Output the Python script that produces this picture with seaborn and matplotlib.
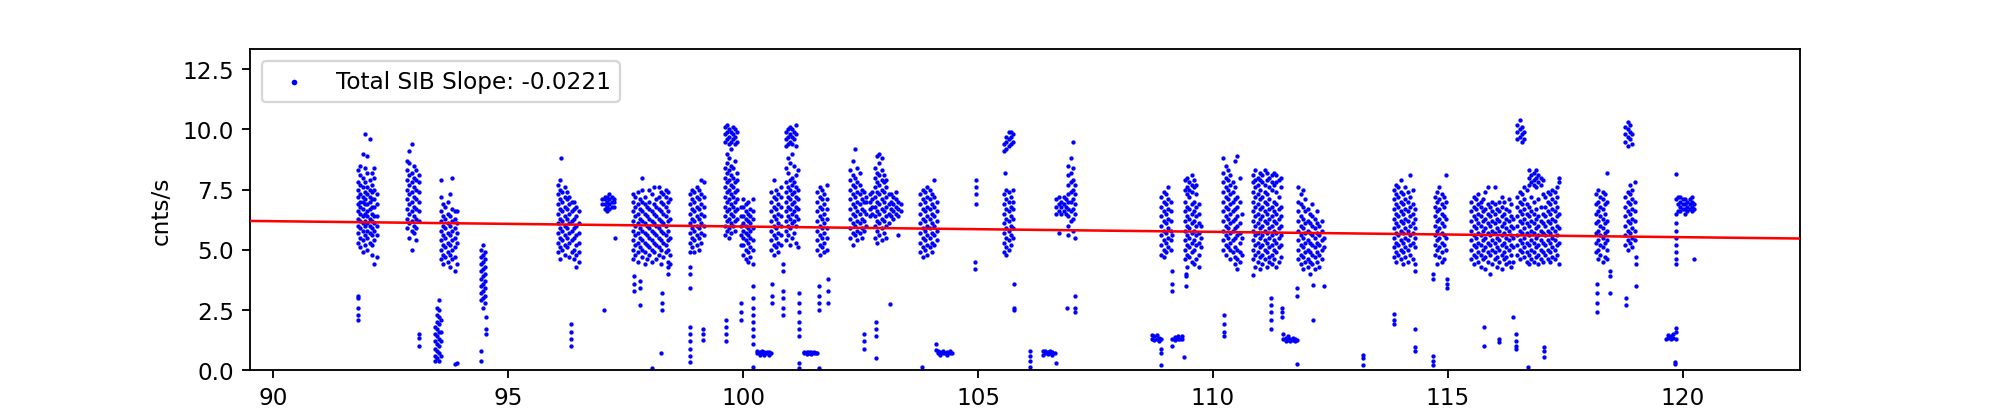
import pandas as pd
import seaborn as sns
import matplotlib.pyplot as plt

seg_92_97 = [
    (91.80, [5.3, 5.7, 6.0, 6.3, 6.6, 6.9, 7.2, 7.5, 7.8, 8.3, 2.1, 2.3, 2.6, 3.0, 3.1]),
    (91.85, [5.1, 5.5, 5.9, 6.2, 6.5, 6.8, 7.0, 7.3, 7.7, 8.1, 8.5]),
    (91.90, [4.9, 5.4, 5.8, 6.1, 6.4, 6.7, 7.0, 7.2, 7.6, 8.0, 9.0]),
    (91.95, [5.2, 5.6, 6.0, 6.2, 6.5, 6.9, 7.1, 7.4, 7.8, 8.4, 9.8]),
    (92.00, [5.0, 5.5, 5.8, 6.1, 6.4, 6.6, 6.9, 7.3, 7.6, 8.2, 8.9]),
    (92.05, [5.3, 5.7, 6.0, 6.3, 6.7, 7.0, 7.2, 7.5, 7.9, 9.6]),
    (92.10, [4.8, 5.2, 5.6, 5.9, 6.2, 6.5, 6.8, 7.1, 7.4, 7.7, 8.2]),
    (92.15, [4.4, 5.4, 5.8, 6.1, 6.4, 6.8, 7.1, 7.5, 8.0, 8.4]),
    (92.20, [4.7, 5.6, 6.0, 6.4, 6.9, 7.3]),
    (92.84, [5.9, 6.3, 6.7, 7.1, 7.5, 7.9, 8.3, 8.7]),
    (92.89, [5.5, 6.1, 6.5, 6.9, 7.3, 7.7, 8.1, 8.6, 9.1]),
    (92.94, [5.0, 5.8, 6.2, 6.6, 7.0, 7.4, 7.8, 8.2, 9.4]),
    (92.99, [5.7, 6.0, 6.4, 6.8, 7.2, 7.6, 8.0, 8.5]),
    (93.04, [5.4, 5.9, 6.3, 6.7, 7.1, 7.5, 7.9, 8.3]),
    (93.09, [6.2, 6.6, 7.0, 7.4, 7.8, 8.1, 1.0, 1.35, 1.5]),
    (93.44, [0.4, 0.6, 0.9, 1.2, 1.5, 1.8]),
    (93.48, [0.5, 0.8, 1.1, 1.4, 1.7, 2.0, 2.3, 2.6]),
    (93.52, [0.4, 0.7, 1.0, 1.3, 1.6, 1.9, 2.2, 2.5, 2.9]),
    (93.56, [4.6, 5.0, 5.4, 5.8, 6.2, 6.6, 7.2, 7.9, 0.6, 1.2, 1.6, 2.1]),
    (93.61, [4.4, 4.8, 5.2, 5.6, 6.0, 6.4, 6.9]),
    (93.66, [4.7, 5.1, 5.5, 5.9, 6.3, 6.8]),
    (93.71, [4.5, 4.9, 5.3, 5.7, 6.1, 6.5, 7.0]),
    (93.76, [4.3, 4.8, 5.2, 5.6, 6.0, 6.4, 7.3]),
    (93.81, [4.6, 5.0, 5.4, 5.8, 6.2, 6.7, 8.0]),
    (93.86, [4.1, 4.7, 5.1, 5.5, 5.9, 6.3, 6.6, 0.25]),
    (93.90, [4.4, 5.3, 5.7, 6.1, 6.6, 0.3]),
    (94.42, [2.9, 3.2, 3.5, 3.8, 4.1, 4.4, 4.7, 5.0, 0.4, 0.8]),
    (94.46, [2.6, 3.0, 3.3, 3.6, 3.9, 4.2, 4.5, 4.8, 5.2]),
    (94.50, [2.8, 3.1, 3.4, 3.7, 4.0, 4.3, 4.6, 4.9]),
    (94.53, [1.5, 1.7, 2.2]),
    (96.05, [4.9, 5.3, 5.7, 6.1, 6.5, 6.9, 7.3, 7.7]),
    (96.10, [4.6, 5.1, 5.5, 5.9, 6.3, 6.7, 7.1, 7.5, 7.9]),
    (96.13, [8.8]),
    (96.15, [5.0, 5.4, 5.8, 6.2, 6.6, 7.0, 7.4]),
    (96.20, [4.8, 5.2, 5.6, 6.0, 6.4, 6.8, 7.2, 7.6]),
    (96.25, [5.1, 5.5, 5.9, 6.3, 6.7, 7.1, 7.4]),
    (96.30, [4.7, 5.3, 5.7, 6.1, 6.5, 6.9, 7.2]),
    (96.33, [1.0, 1.3, 1.6, 1.9]),
    (96.35, [4.9, 5.4, 5.8, 6.2, 6.6, 7.0]),
    (96.40, [4.6, 5.0, 5.5, 5.9, 6.3, 6.7, 7.0]),
    (96.45, [4.3, 4.8, 5.2, 5.6, 6.0, 6.4, 6.8]),
    (96.50, [4.5, 4.9, 5.3, 5.7, 6.1, 6.6]),
    (97.00, [6.9, 7.1]),
    (97.03, [2.5]),
    (97.05, [6.7, 6.9, 7.1, 7.2]),
    (97.10, [6.6, 6.8, 7.0, 7.2]),
    (97.15, [6.7, 6.9, 7.1, 7.3]),
    (97.20, [6.8, 7.0, 7.2]),
    (97.25, [6.8, 7.0, 7.1]),
    (97.28, [5.5]),
]

seg_98_101 = [
    (97.65, [4.6, 5.0, 5.4, 5.8, 6.2, 6.6, 7.0, 7.3]),
    (97.67, [3.3, 3.6, 3.9]),
    (97.70, [4.8, 5.2, 5.6, 6.0, 6.4, 6.8, 7.2]),
    (97.75, [4.5, 4.9, 5.3, 5.7, 6.1, 6.5, 6.9, 7.4]),
    (97.80, [5.1, 5.5, 5.9, 6.3, 6.7, 7.1, 2.7, 3.4, 3.7]),
    (97.85, [4.7, 5.0, 5.4, 5.8, 6.2, 6.6, 7.0, 7.5, 8.0]),
    (97.90, [4.4, 4.9, 5.3, 5.7, 6.1, 6.5, 6.9, 7.2]),
    (97.95, [4.6, 5.2, 5.6, 6.0, 6.4, 6.8]),
    (98.00, [4.8, 5.1, 5.5, 5.9, 6.3, 6.7, 7.0, 7.5]),
    (98.05, [4.5, 5.0, 5.4, 5.8, 6.2, 6.6, 7.3, 0.1]),
    (98.10, [4.9, 5.3, 5.7, 6.1, 6.5, 6.9, 7.6]),
    (98.15, [4.6, 5.2, 5.6, 6.0, 6.4, 6.8, 7.1]),
    (98.20, [4.8, 5.1, 5.5, 5.9, 6.3, 6.7, 7.2, 7.6]),
    (98.25, [4.4, 5.0, 5.4, 5.8, 6.2, 6.6, 7.0, 7.4, 0.7]),
    (98.27, [2.5, 2.8, 3.2]),
    (98.30, [4.7, 5.3, 5.7, 6.1, 6.5, 6.9, 7.3]),
    (98.35, [4.9, 5.2, 5.6, 6.0, 6.4, 6.8, 7.2, 7.5]),
    (98.40, [5.0, 5.4, 5.8, 6.2, 6.6, 7.0, 7.4, 4.0, 4.3, 4.5]),
    (98.44, [4.4, 4.8, 5.5, 6.3, 7.1]),
    (98.86, [4.9, 5.3, 5.7, 6.1, 6.5, 6.9, 7.3, 0.35, 0.6, 0.9, 1.2, 1.5, 1.8, 3.4, 4.0, 4.3]),
    (98.91, [5.1, 5.5, 5.9, 6.3, 6.7, 7.1, 7.5]),
    (98.96, [4.9, 5.4, 5.8, 6.2, 6.6, 7.0, 7.4]),
    (99.01, [5.2, 5.6, 6.0, 6.4, 6.8, 7.2, 7.6]),
    (99.06, [5.0, 5.5, 5.9, 6.3, 6.7, 7.1, 7.5]),
    (99.11, [5.3, 5.7, 6.1, 6.5, 6.9, 7.3, 7.9]),
    (99.14, [1.25, 1.5, 1.7]),
    (99.16, [5.6, 6.0, 6.4, 6.8, 7.2, 7.8]),
    (99.62, [5.6, 6.0, 6.4, 6.8, 7.2, 7.6, 8.0, 8.4, 9.5, 9.8, 10.1]),
    (99.64, [1.2, 1.5, 1.8, 2.1]),
    (99.66, [5.8, 6.2, 6.6, 7.0, 7.4, 7.8, 8.2, 8.6, 9.0, 9.6, 9.9, 10.2]),
    (99.70, [5.5, 5.9, 6.3, 6.7, 7.1, 7.5, 7.9, 8.3, 8.8, 9.4, 9.7, 10.0]),
    (99.74, [5.7, 6.1, 6.5, 6.9, 7.3, 7.7, 8.1, 8.5, 9.2, 9.5, 9.9]),
    (99.78, [6.0, 6.4, 6.8, 7.2, 7.6, 8.0, 8.4, 9.6, 9.8, 10.1]),
    (99.82, [5.8, 6.2, 6.6, 7.0, 7.4, 7.8, 8.7, 9.4, 9.7, 10.0]),
    (99.86, [6.3, 6.7, 7.1, 7.5, 7.9, 8.2, 9.5, 9.9]),
    (99.95, [5.2, 5.6, 6.0, 6.4, 6.8, 2.1, 2.4, 2.8]),
    (100.00, [4.8, 5.2, 5.5, 5.8, 6.1, 6.4, 6.8, 7.1]),
    (100.05, [4.6, 5.0, 5.4, 5.7, 6.0, 6.3, 6.6, 6.9]),
    (100.10, [4.5, 4.9, 5.3, 5.6, 5.9, 6.2, 6.5, 7.0]),
    (100.15, [4.7, 5.1, 5.5, 5.8, 6.1, 6.4, 6.7]),
    (100.20, [4.4, 5.0, 5.4, 5.9, 6.3, 6.6, 7.1, 1.1, 1.4, 1.7, 2.0, 2.3, 2.6, 3.0, 3.5, 0.15]),
    (100.30, [0.7, 0.78]),
    (100.35, [0.65, 0.75]),
    (100.40, [0.7, 0.78]),
    (100.45, [0.65, 0.75]),
    (100.50, [0.7, 0.76]),
    (100.55, [0.65, 0.75]),
    (100.60, [5.0, 5.4, 5.8, 6.2, 6.6, 7.0, 7.4, 0.7]),
    (100.62, [2.8, 3.1, 3.6]),
    (100.65, [4.8, 5.2, 5.6, 6.0, 6.4, 6.8, 7.2, 7.9]),
    (100.70, [5.1, 5.5, 5.9, 6.3, 6.7, 7.1, 7.5]),
    (100.75, [4.9, 5.3, 5.7, 6.1, 6.5, 6.9, 7.3]),
    (100.80, [5.2, 5.6, 6.0, 6.4, 6.8, 7.2, 7.6]),
    (100.84, [4.1, 4.4, 3.3, 3.0, 2.6, 2.3]),
    (100.92, [5.4, 5.8, 6.2, 6.6, 7.0, 7.4, 7.8, 8.4, 9.3, 9.6, 9.9]),
    (100.96, [5.6, 6.0, 6.4, 6.8, 7.2, 7.6, 8.2, 8.8, 9.4, 9.7, 10.0]),
    (101.00, [5.2, 5.9, 6.3, 6.7, 7.1, 7.5, 7.9, 8.6, 9.5, 9.8, 10.1]),
    (101.04, [5.5, 6.1, 6.5, 6.9, 7.3, 7.7, 8.0, 9.0, 9.4, 9.7, 10.0]),
    (101.08, [5.7, 6.2, 6.6, 7.0, 7.4, 7.8, 8.5, 9.6, 9.9]),
    (101.12, [5.3, 6.0, 6.4, 6.8, 7.2, 7.6, 8.1, 9.3, 9.8, 10.2]),
    (101.16, [5.1, 6.3, 6.7, 7.1, 7.5, 8.3]),
    (101.19, [1.4, 1.7, 2.0, 2.4, 2.8, 3.2, 0.1, 0.3]),
    (101.30, [0.7, 0.76]),
    (101.35, [0.68, 0.74]),
    (101.40, [0.7, 0.76]),
    (101.45, [0.68, 0.74]),
    (101.50, [0.7, 0.76]),
    (101.55, [0.7]),
    (101.58, [5.0, 5.4, 5.8, 6.2, 6.6, 7.0, 7.4, 0.72]),
    (101.61, [2.5, 2.8, 3.1, 3.5, 0.1]),
    (101.63, [4.8, 5.2, 5.6, 6.0, 6.4, 6.8, 7.2, 7.6]),
    (101.68, [5.1, 5.5, 5.9, 6.3, 6.7, 7.1, 7.5]),
    (101.73, [4.9, 5.3, 5.7, 6.1, 6.5, 6.9, 7.3]),
    (101.78, [5.0, 5.5, 5.9, 6.3, 6.7, 7.1, 7.7]),
    (101.80, [2.8, 3.3, 3.8]),
]

seg_102_107 = [
    (102.28, [5.5, 5.9, 6.3, 6.7, 7.1, 7.5, 7.9, 8.3]),
    (102.33, [5.2, 5.7, 6.1, 6.5, 6.9, 7.3, 7.7, 8.1, 8.7]),
    (102.38, [5.6, 6.0, 6.4, 6.8, 7.2, 7.6, 8.0, 9.2]),
    (102.43, [5.4, 5.8, 6.2, 6.6, 7.0, 7.4, 7.8, 8.4]),
    (102.48, [5.7, 6.1, 6.5, 6.9, 7.3, 7.7, 8.2]),
    (102.53, [5.5, 5.9, 6.3, 6.7, 7.1, 7.5]),
    (102.58, [5.8, 6.2, 6.6, 7.0, 7.4, 0.9, 1.2, 1.5]),
    (102.62, [6.0, 6.5, 7.0, 7.2]),
    (102.70, [6.4, 6.7, 7.0, 7.3]),
    (102.75, [6.5, 6.8, 7.1, 7.4]),
    (102.80, [5.5, 6.0, 6.4, 6.8, 7.2, 7.6, 8.0, 8.4]),
    (102.83, [1.4, 1.7, 2.0, 0.5]),
    (102.85, [5.3, 5.8, 6.2, 6.6, 7.0, 7.4, 7.8, 8.2, 8.9]),
    (102.90, [5.6, 6.1, 6.5, 6.9, 7.3, 7.7, 8.1, 8.6, 9.0]),
    (102.95, [5.4, 5.9, 6.3, 6.7, 7.1, 7.5, 7.9, 8.3, 8.8]),
    (103.00, [5.7, 6.2, 6.6, 7.0, 7.4, 7.8, 8.1]),
    (103.05, [5.5, 6.0, 6.4, 6.8, 7.2, 7.6, 7.9]),
    (103.10, [6.1, 6.5, 6.9, 7.3]),
    (103.12, [2.75]),
    (103.15, [6.4, 6.7, 7.0, 7.3]),
    (103.20, [6.3, 6.6, 6.9, 7.2]),
    (103.25, [6.5, 6.8, 7.1, 7.4]),
    (103.30, [6.4, 6.7, 7.0, 5.6]),
    (103.35, [6.6, 6.9]),
    (103.77, [4.9, 5.3, 5.7, 6.1, 6.5, 6.9, 7.3]),
    (103.80, [0.15]),
    (103.82, [4.7, 5.1, 5.5, 5.9, 6.3, 6.7, 7.1, 7.5]),
    (103.87, [5.0, 5.4, 5.8, 6.2, 6.6, 7.0, 7.4]),
    (103.92, [4.8, 5.2, 5.6, 6.0, 6.4, 6.8, 7.2, 7.6]),
    (103.97, [5.1, 5.5, 5.9, 6.3, 6.7, 7.1, 7.5]),
    (104.02, [4.9, 5.3, 5.7, 6.1, 6.5, 6.9, 7.3]),
    (104.07, [5.2, 5.6, 6.0, 6.4, 6.8, 7.2, 7.9]),
    (104.10, [0.85, 1.1]),
    (104.12, [5.4, 5.8, 6.2, 6.6, 7.0]),
    (104.15, [0.7, 0.8]),
    (104.20, [0.65, 0.75]),
    (104.25, [0.7, 0.8]),
    (104.30, [0.7]),
    (104.35, [0.65, 0.75]),
    (104.40, [0.7, 0.8]),
    (104.45, [0.7]),
    (104.94, [4.2, 4.5]),
    (104.95, [6.9, 7.3, 7.6, 7.9]),
    (105.55, [4.9, 5.3, 5.7, 6.1, 6.5, 6.9, 7.3, 9.1, 9.4]),
    (105.58, [8.2]),
    (105.60, [4.8, 5.1, 5.5, 5.9, 6.3, 6.7, 7.1, 7.5, 9.2, 9.5, 9.7]),
    (105.65, [5.0, 5.4, 5.8, 6.2, 6.6, 7.0, 7.4, 9.3, 9.6, 9.9]),
    (105.70, [5.2, 5.6, 6.0, 6.4, 6.8, 7.2, 9.4, 9.7, 9.9]),
    (105.75, [5.5, 5.9, 6.3, 6.7, 7.0, 7.5, 9.5, 9.8]),
    (105.77, [2.5, 2.6, 3.6]),
    (106.10, [0.15, 0.4, 0.6, 0.8]),
    (106.38, [0.65, 0.8]),
    (106.43, [0.7, 0.78]),
    (106.48, [0.68, 0.75]),
    (106.53, [0.7, 0.8]),
    (106.58, [0.65, 0.75]),
    (106.63, [0.72]),
    (106.67, [6.5, 6.8, 7.1, 0.3]),
    (106.72, [6.6, 6.9, 7.2, 5.7]),
    (106.77, [6.5, 6.8, 7.0]),
    (106.82, [6.6, 6.9, 7.2]),
    (106.87, [6.5, 6.8, 7.1]),
    (106.90, [2.6]),
    (106.92, [5.6, 6.0, 6.4, 6.7, 7.0, 7.3, 7.7, 8.1, 8.5]),
    (106.97, [6.2, 6.6, 7.0, 7.4, 7.8, 8.2, 8.8]),
    (107.02, [5.8, 6.3, 6.7, 7.1, 7.5, 7.9, 8.4, 9.5]),
    (107.06, [5.5, 6.5, 6.9, 7.3, 7.7, 2.4, 2.6, 3.1]),
]

seg_109_113 = [
    (108.70, [1.3, 1.45]),
    (108.75, [1.25, 1.4]),
    (108.80, [1.3, 1.45]),
    (108.85, [1.2, 1.35]),
    (108.90, [4.8, 5.2, 5.6, 6.0, 6.4, 6.8, 7.2, 1.3, 0.2, 0.7, 0.9]),
    (108.95, [4.7, 5.0, 5.4, 5.8, 6.2, 6.6, 7.0, 7.4]),
    (109.00, [4.9, 5.3, 5.7, 6.1, 6.5, 6.9, 7.3]),
    (109.05, [5.1, 5.5, 5.9, 6.3, 6.7, 7.1, 7.6]),
    (109.10, [5.0, 5.4, 5.8, 6.2, 6.6, 7.0]),
    (109.14, [4.1, 3.6, 3.3, 5.6, 1.3, 1.0]),
    (109.20, [1.25, 1.38]),
    (109.25, [1.3, 1.42]),
    (109.30, [1.28]),
    (109.35, [1.3, 1.4]),
    (109.38, [0.55]),
    (109.40, [4.6, 5.0, 5.4, 5.8, 6.2, 6.6, 7.0, 7.5, 7.9]),
    (109.42, [3.5, 3.9, 4.0]),
    (109.45, [4.3, 4.8, 5.2, 5.6, 6.0, 6.4, 6.8, 7.3, 7.6, 8.0]),
    (109.50, [4.7, 5.1, 5.5, 5.9, 6.3, 6.7, 7.2, 7.5, 7.8]),
    (109.55, [4.5, 4.9, 5.3, 5.7, 6.1, 6.5, 6.9, 7.4, 7.7, 8.1]),
    (109.60, [4.4, 5.0, 5.4, 5.8, 6.2, 6.6, 7.0, 7.6, 7.9]),
    (109.65, [4.6, 5.2, 5.6, 6.0, 6.4, 6.8, 7.3, 7.7]),
    (109.70, [4.3, 4.8, 5.3, 5.7, 6.1, 6.5, 6.9]),
    (109.75, [5.1, 5.5, 6.0]),
    (110.22, [5.0, 5.4, 5.8, 6.2, 6.6, 7.0, 7.4, 7.8, 8.2, 8.8]),
    (110.23, [1.4, 1.6, 1.9, 2.3]),
    (110.27, [4.8, 5.2, 5.6, 6.0, 6.4, 6.8, 7.2, 7.6, 8.0, 8.5]),
    (110.32, [5.1, 5.5, 5.9, 6.3, 6.7, 7.1, 7.5, 7.9, 8.3]),
    (110.37, [4.6, 5.0, 5.3, 5.7, 6.1, 6.5, 6.9, 7.3, 7.7, 8.1]),
    (110.42, [4.9, 5.4, 5.8, 6.2, 6.6, 7.0, 7.4, 7.8]),
    (110.47, [4.4, 4.7, 5.1, 5.5, 5.9, 6.3, 6.7, 7.1, 7.6, 8.7]),
    (110.52, [4.2, 4.6, 5.0, 5.6, 6.0, 6.4, 6.8, 7.2, 8.9]),
    (110.57, [4.5, 4.9, 5.3, 5.7, 6.1, 7.0, 8.0]),
    (110.61, [4.8, 5.5, 6.5]),
    (110.85, [4.6, 5.0, 5.4, 5.8, 6.2, 6.6, 7.0, 7.4, 7.8, 8.1, 3.95]),
    (110.90, [4.3, 4.8, 5.2, 5.6, 6.0, 6.4, 6.8, 7.2, 7.6, 7.9, 8.3]),
    (110.95, [4.5, 4.9, 5.3, 5.7, 6.1, 6.5, 6.9, 7.3, 7.7, 8.0]),
    (111.00, [4.2, 4.7, 5.1, 5.5, 5.9, 6.3, 6.7, 7.1, 7.5, 7.9, 8.2]),
    (111.05, [4.4, 4.8, 5.2, 5.6, 6.0, 6.4, 6.8, 7.2, 7.8, 8.1]),
    (111.10, [4.6, 5.0, 5.4, 5.8, 6.2, 6.6, 7.0, 7.4, 7.7, 8.3]),
    (111.15, [4.3, 4.9, 5.3, 5.7, 6.1, 6.5, 6.9, 7.3, 7.9, 8.2]),
    (111.20, [4.5, 4.7, 5.1, 5.5, 5.9, 6.3, 6.7, 7.1, 7.6, 8.0]),
    (111.24, [1.7, 2.1, 2.4, 2.7, 3.0]),
    (111.25, [4.4, 4.8, 5.2, 5.6, 6.0, 6.4, 6.8, 7.5, 7.8, 8.1]),
    (111.30, [4.6, 5.0, 5.4, 5.8, 6.2, 6.6, 7.0, 7.7, 8.2]),
    (111.35, [4.3, 4.9, 5.3, 5.7, 6.1, 6.5, 6.9, 7.4, 7.8, 8.1]),
    (111.40, [4.5, 5.1, 5.5, 5.9, 6.3, 6.7, 7.2, 7.9]),
    (111.45, [4.7, 5.2, 5.6, 6.0, 6.4, 6.8, 7.6, 8.0]),
    (111.47, [2.2, 2.4, 2.6]),
    (111.50, [1.3, 1.5]),
    (111.55, [1.2, 1.35]),
    (111.60, [1.25, 1.4]),
    (111.65, [1.2, 1.3]),
    (111.70, [1.25, 1.35]),
    (111.75, [1.2, 1.3]),
    (111.80, [1.25, 3.1, 3.4, 0.25]),
    (111.82, [4.6, 5.0, 5.4, 5.8, 6.2, 6.6, 7.0, 7.6]),
    (111.87, [4.4, 4.8, 5.2, 5.6, 6.0, 6.4, 6.9, 7.3]),
    (111.92, [4.2, 4.7, 5.1, 5.5, 5.9, 6.3, 6.8, 7.5]),
    (111.97, [4.5, 4.9, 5.3, 5.7, 6.1, 6.6, 7.1]),
    (112.02, [4.3, 4.6, 5.0, 5.4, 5.8, 6.2, 6.7]),
    (112.07, [4.0, 4.5, 4.9, 5.3, 5.7, 6.1, 6.5]),
    (112.12, [4.4, 4.8, 5.2, 5.6, 6.0, 6.4, 6.9]),
    (112.14, [3.55, 2.1]),
    (112.17, [4.2, 4.7, 5.1, 5.5, 5.9, 6.3]),
    (112.22, [4.5, 4.9, 5.3, 5.7, 6.1, 6.6]),
    (112.27, [4.3, 4.8, 5.2, 5.6, 6.0]),
    (112.32, [4.6, 5.0, 5.4, 5.8, 6.2]),
    (112.37, [5.1, 5.5, 3.5]),
    (113.19, [0.2, 0.5, 0.65]),
]

seg_114_120 = [
    (113.85, [4.7, 5.1, 5.5, 5.9, 6.3, 6.7, 7.1, 7.5]),
    (113.86, [1.9, 2.1, 2.35]),
    (113.90, [4.5, 4.9, 5.3, 5.7, 6.1, 6.5, 6.9, 7.3, 7.7]),
    (113.95, [4.8, 5.2, 5.6, 6.0, 6.4, 6.8, 7.2, 7.6]),
    (114.00, [4.6, 5.0, 5.4, 5.8, 6.2, 6.6, 7.0, 7.4, 7.9]),
    (114.05, [4.4, 4.9, 5.3, 5.7, 6.1, 6.5, 6.9, 7.3]),
    (114.10, [4.7, 5.1, 5.5, 5.9, 6.3, 6.7, 7.1, 7.6]),
    (114.15, [4.5, 5.0, 5.4, 5.8, 6.2, 6.6, 7.0, 7.4]),
    (114.20, [4.8, 5.2, 5.6, 6.0, 6.4, 6.8, 7.2, 8.1]),
    (114.25, [4.6, 5.3, 5.7, 6.1, 6.5, 6.9, 7.5]),
    (114.30, [4.1, 4.4, 5.1, 5.5, 5.9, 6.3, 6.7, 1.7, 0.8, 0.95]),
    (114.69, [4.0, 3.8, 0.2, 0.4, 0.6]),
    (114.72, [4.8, 5.2, 5.6, 6.0, 6.4, 6.8, 7.2]),
    (114.77, [4.4, 5.0, 5.4, 5.8, 6.2, 6.6, 7.0, 7.4]),
    (114.82, [4.7, 5.1, 5.5, 5.9, 6.3, 6.7, 7.1, 7.6]),
    (114.87, [4.5, 4.9, 5.3, 5.7, 6.1, 6.5, 6.9, 7.3]),
    (114.92, [4.6, 5.2, 5.6, 6.0, 6.4, 6.8, 7.2]),
    (114.97, [5.0, 5.5, 6.3, 7.0, 8.1]),
    (114.99, [3.4, 3.6, 3.8]),
    (115.50, [4.6, 5.0, 5.4, 5.8, 6.2, 6.6, 7.0]),
    (115.55, [4.4, 4.8, 5.2, 5.6, 6.0, 6.4, 6.8, 7.2]),
    (115.60, [4.7, 5.1, 5.5, 5.9, 6.3, 6.7, 7.1]),
    (115.65, [4.5, 4.9, 5.3, 5.7, 6.1, 6.5, 6.9, 7.3]),
    (115.70, [4.3, 4.8, 5.2, 5.6, 6.0, 6.4, 6.8, 7.0]),
    (115.75, [4.6, 5.0, 5.4, 5.8, 6.2, 6.6, 7.1]),
    (115.78, [1.8, 1.0]),
    (115.80, [4.2, 4.7, 5.1, 5.5, 5.9, 6.3, 6.7, 7.4]),
    (115.85, [4.5, 4.9, 5.3, 5.7, 6.1, 6.5, 6.9, 7.6]),
    (115.90, [4.0, 4.8, 5.2, 5.6, 6.0, 6.4, 6.8]),
    (115.95, [4.4, 5.0, 5.4, 5.8, 6.2, 6.6, 7.0]),
    (116.00, [4.6, 4.9, 5.3, 5.7, 6.1, 6.5, 6.9, 7.6]),
    (116.05, [4.3, 4.7, 5.1, 5.5, 5.9, 6.3, 6.7]),
    (116.09, [1.15, 1.3]),
    (116.10, [4.5, 5.0, 5.4, 5.8, 6.2, 6.6, 7.0]),
    (116.15, [4.2, 4.8, 5.2, 5.6, 6.0, 6.4, 6.8, 7.2]),
    (116.20, [4.6, 4.9, 5.3, 5.7, 6.1, 6.5, 7.0]),
    (116.25, [4.4, 4.7, 5.1, 5.5, 5.9, 6.3, 6.7]),
    (116.30, [4.5, 5.0, 5.4, 5.8, 6.2, 6.6, 7.1]),
    (116.35, [4.3, 4.8, 5.2, 5.6, 6.0, 6.4, 6.9]),
    (116.40, [4.5, 5.1, 5.5, 5.9, 6.3, 2.2]),
    (116.45, [0.9, 1.0, 1.2, 1.5]),
    (116.48, [4.8, 5.2, 5.6, 6.0, 6.4, 6.8, 7.2, 9.6, 9.9, 10.2]),
    (116.53, [4.6, 5.0, 5.4, 5.8, 6.2, 6.6, 7.0, 7.4, 9.7, 10.0, 10.4]),
    (116.58, [4.9, 5.3, 5.7, 6.1, 6.5, 6.9, 7.3, 9.5, 9.8, 10.1]),
    (116.63, [4.7, 5.1, 5.5, 5.9, 6.3, 6.7, 7.1, 7.6, 9.6, 9.9]),
    (116.68, [4.5, 4.9, 5.3, 5.7, 6.1, 6.5, 6.9, 7.5]),
    (116.70, [0.15]),
    (116.73, [4.4, 4.8, 5.2, 5.6, 6.0, 6.4, 6.8, 7.7, 8.0, 8.3]),
    (116.78, [4.6, 5.0, 5.4, 5.8, 6.2, 6.6, 7.2, 7.8, 8.1]),
    (116.83, [4.5, 4.9, 5.3, 5.7, 6.1, 6.5, 7.0, 7.7, 7.9, 8.2]),
    (116.88, [4.7, 5.1, 5.5, 5.9, 6.3, 6.7, 7.6, 8.0, 8.3]),
    (116.93, [4.4, 4.8, 5.2, 5.6, 6.0, 6.4, 7.1, 7.8, 8.1]),
    (116.98, [4.6, 5.0, 5.4, 5.8, 6.2, 6.8, 7.7, 8.0]),
    (117.03, [4.5, 4.9, 5.3, 5.7, 6.1, 6.5, 7.3, 7.9]),
    (117.06, [0.55, 0.8, 0.95]),
    (117.08, [4.8, 5.2, 5.6, 6.0, 6.4, 6.8, 7.2]),
    (117.13, [4.6, 5.0, 5.4, 5.8, 6.2, 6.6, 7.0, 7.4]),
    (117.18, [4.5, 4.9, 5.3, 5.7, 6.1, 6.5, 6.9, 7.3]),
    (117.23, [4.7, 5.1, 5.5, 5.9, 6.3, 6.7, 7.1, 7.5]),
    (117.28, [4.6, 5.0, 5.4, 5.8, 6.2, 6.6, 7.0, 7.4]),
    (117.33, [4.8, 5.2, 5.6, 6.0, 6.4, 6.8, 7.2, 7.6]),
    (117.37, [4.4, 5.3, 5.9, 6.5, 7.8, 8.0]),
    (118.15, [4.9, 5.3, 5.7, 6.1, 6.5, 6.9, 7.3]),
    (118.17, [2.4, 2.8, 3.2, 3.6]),
    (118.20, [4.6, 5.0, 5.4, 5.8, 6.2, 6.6, 7.0, 7.5]),
    (118.25, [4.8, 5.2, 5.6, 6.0, 6.4, 6.8, 7.2]),
    (118.30, [4.5, 5.1, 5.5, 5.9, 6.3, 6.7, 7.1, 7.4]),
    (118.35, [4.7, 5.3, 5.7, 6.1, 6.5, 6.9, 7.3]),
    (118.40, [4.6, 5.0, 5.4, 5.8, 6.2, 7.0, 8.2]),
    (118.45, [3.2, 3.9, 4.1]),
    (118.78, [5.2, 5.6, 6.0, 6.4, 6.8, 7.2, 9.5, 9.8, 10.1]),
    (118.80, [2.7, 3.0]),
    (118.83, [5.0, 5.4, 5.8, 6.2, 6.6, 7.0, 7.4, 9.3, 9.7, 10.0, 10.3]),
    (118.88, [5.3, 5.7, 6.1, 6.5, 6.9, 7.3, 7.7, 9.6, 9.9, 10.2]),
    (118.93, [5.1, 5.5, 5.9, 6.3, 6.7, 7.1, 7.5, 9.4, 9.8]),
    (118.98, [5.4, 5.8, 6.2, 6.6, 7.0, 7.8]),
    (119.01, [3.5, 4.4, 4.7]),
    (119.65, [1.3]),
    (119.70, [1.35, 1.45]),
    (119.75, [1.3, 1.4]),
    (119.80, [1.35, 1.5]),
    (119.83, [0.35, 0.25]),
    (119.85, [1.3, 1.6, 1.75]),
    (119.86, [4.4, 4.6, 4.9, 5.2, 5.5, 5.8, 6.1, 6.5, 7.1, 8.15]),
    (119.90, [6.6, 6.9, 7.2]),
    (119.95, [6.6, 6.8, 7.0, 7.2]),
    (120.00, [6.7, 6.9, 7.1]),
    (120.05, [6.5, 6.7, 6.9, 7.1]),
    (120.10, [6.6, 6.8, 7.0]),
    (120.15, [6.7, 6.9, 7.1]),
    (120.20, [6.6, 6.8, 7.0, 7.2]),
    (120.25, [6.7, 6.9, 4.6]),
]

# fitted trend line (endpoints at the axis edges)
fit_x = [89.5, 122.5]
fit_y = [6.20, 5.47]
slope_label = 'Total SIB Slope: -0.0221'

rows = []
for seg in [seg_92_97, seg_98_101, seg_102_107, seg_109_113, seg_114_120]:
    for t, rates in seg:
        for r in rates:
            rows.append((t, r))
df = pd.DataFrame(rows, columns=['time', 'rate'])
fit = pd.DataFrame({'time': fit_x, 'rate': fit_y})

fig, ax = plt.subplots(figsize=(12, 2.5))
sns.scatterplot(data=df, x='time', y='rate', color='blue', s=3.5, linewidth=0,
                label=slope_label, ax=ax)
sns.lineplot(data=fit, x='time', y='rate', color='red', linewidth=1.1,
             legend=False, ax=ax, zorder=3)

ax.set_xlim(89.5, 122.5)
ax.set_ylim(0, 13.33)
ax.set_xlabel('')
ax.set_ylabel('cnts/s')
ax.legend(loc='upper left', markerscale=1.3)

plt.savefig('out.png', dpi=2000 / 12)
